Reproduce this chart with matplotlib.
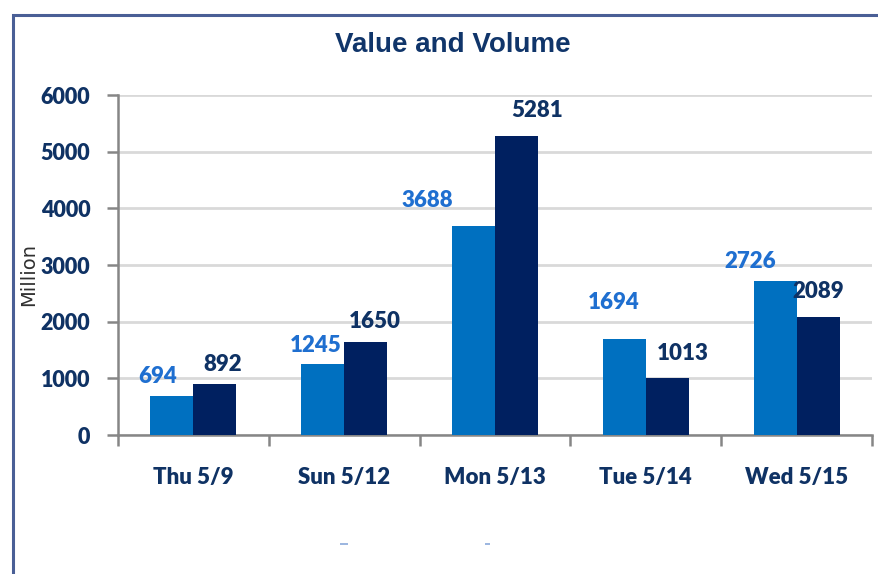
import matplotlib
matplotlib.use("Agg")
import matplotlib.pyplot as plt
from matplotlib.patches import Rectangle
import numpy as np

categories = ["Thu 5/9", "Sun 5/12", "Mon 5/13", "Tue 5/14", "Wed 5/15"]
value = [694, 1245, 3688, 1694, 2726]
volume = [892, 1650, 5281, 1013, 2089]
yticks = [0, 1000, 2000, 3000, 4000, 5000, 6000]

# label offsets in pixels (layout only)
value_dx = [-14, -7, -46, -11, -25]
value_dy = [9, 8, 15, 26, 9]
volume_dx = [8, 9, 21, 15, 0]
volume_dy = [9, 10, 15, 14, 15]

LIGHT = "#0070C0"
DARK = "#002060"
TXT = "#0F3264"
LBL = ["Lato", "DejaVu Sans"]
TITLE = ["Liberation Sans", "DejaVu Sans"]
WT = "heavy"

W, H = 879, 574
fig = plt.figure(figsize=(W / 100, H / 100), dpi=100)
ax = fig.add_axes([118 / W, 1 - 435 / H, (872 - 118) / W, (435 - 95) / H])

x = np.arange(len(categories))
bw = 0.2855
b1 = ax.bar(x - bw / 2, value, bw, color=LIGHT, zorder=3)
b2 = ax.bar(x + bw / 2, volume, bw, color=DARK, zorder=3)

for i, r in enumerate(b1):
    ax.annotate(str(value[i]), (r.get_x() + r.get_width() / 2, r.get_height()),
                xytext=(value_dx[i], value_dy[i]), textcoords="offset pixels",
                ha="center", va="bottom", fontsize=16, fontweight=WT,
                color="#1F6FD0", family=LBL)
for i, r in enumerate(b2):
    ax.annotate(str(volume[i]), (r.get_x() + r.get_width() / 2, r.get_height()),
                xytext=(volume_dx[i], volume_dy[i]), textcoords="offset pixels",
                ha="center", va="bottom", fontsize=16, fontweight=WT,
                color=TXT, family=LBL)

ax.set_xlim(-0.5, len(categories) - 0.5)
ax.set_ylim(0, 6000)
ax.set_yticks(yticks)
ax.set_yticklabels([str(t) for t in yticks], fontsize=15.5, fontweight=WT,
                   color=TXT, family=LBL)
ax.set_xticks(np.arange(-0.5, len(categories), 1.0))
ax.set_xticklabels([])
ax.set_xticks(x, minor=True)
ax.set_xticklabels(categories, minor=True, fontsize=16, fontweight=WT,
                   color=TXT, family=LBL)
ax.tick_params(axis="x", which="minor", length=0, pad=23)
ax.tick_params(axis="x", which="major", length=8, width=1.8, color="#868686",
               direction="out")
ax.tick_params(axis="y", length=8, width=1.8, color="#868686", direction="out",
               pad=12)

ax.grid(axis="y", color="#D9D9D9", lw=2, zorder=0)
ax.set_axisbelow(True)
for s in ["top", "right"]:
    ax.spines[s].set_visible(False)
for s in ["left", "bottom"]:
    ax.spines[s].set_color("#868686")
    ax.spines[s].set_linewidth(1.8)

ax.set_ylabel("Million", fontsize=14, color="#303030", family="DejaVu Sans")
ax.yaxis.set_label_coords((38 - 118) / (872 - 118), 0.473)

fig.text(453 / W, 1 - 45 / H, "Value and Volume", ha="center", va="center",
         fontsize=20, fontweight="bold", color="#10356A", family=TITLE)

# frame around the chart
fig.add_artist(Rectangle((13 / W, -0.1), 1.1, 1 - 15 / H + 0.1,
                         transform=fig.transFigure, fill=False,
                         edgecolor="#4A5F96", lw=2.2, clip_on=False))
# faint legend remnants
fig.add_artist(Rectangle((340 / W, 1 - 545 / H), 8 / W, 2 / H,
                         transform=fig.transFigure, color="#9DB7E0", lw=0))
fig.add_artist(Rectangle((485 / W, 1 - 545 / H), 5 / W, 2 / H,
                         transform=fig.transFigure, color="#9DB7E0", lw=0))

fig.savefig("out.png", dpi=100)
